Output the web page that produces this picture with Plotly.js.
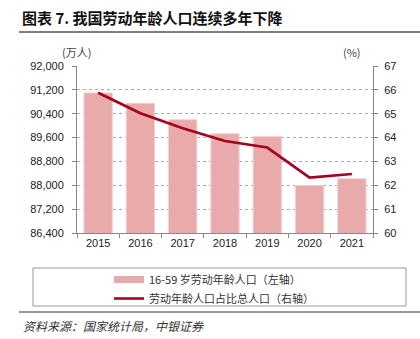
<!DOCTYPE html>
<html>
<head>
<meta charset="utf-8">
<script src="https://cdn.plot.ly/plotly-3.0.1.min.js"></script>
<style>html,body{margin:0;padding:0;background:#fff;}#chart{width:420px;height:339px;}</style>
</head>
<body>
<div id="chart"></div>
<script>
const years = ['2015','2016','2017','2018','2019','2020','2021'];
const workingAgePop = [91096, 90747, 90199, 89729, 89640, 87990, 88222];
const workingAgeShare = [65.88, 65.02, 64.39, 63.86, 63.58, 62.32, 62.47];
const leftTicks = [86400, 87200, 88000, 88800, 89600, 90400, 91200, 92000];
const rightTicks = [60, 61, 62, 63, 64, 65, 66, 67];
const barName = '16-59 岁劳动年龄人口（左轴）';
const lineName = '劳动年龄人口占比总人口（右轴）';

const W = 420, H = 339, L = 77, R = 47, T = 66, B = 106;
const pw = W - L - R, ph = H - T - B;
const px = x => (x - L) / pw;
const py = y => (H - B - y) / ph;

const cjk = '"Noto Sans CJK SC", "Noto Sans", sans-serif';
const num = '"Liberation Sans", Arial, sans-serif';
const barColor = '#E8AAAA';

const traces = [
  {type:'bar', x:years, y:workingAgePop, name:barName, yaxis:'y', showlegend:false,
   marker:{color:barColor, line:{color:'#F3D2D2', width:1}}},
  // legend-only entry so the bar swatch is a wide band like the reference
  {type:'scatter', mode:'lines', x:[null], y:[null], name:barName, yaxis:'y',
   line:{color:barColor, width:7}, hoverinfo:'skip'},
  {type:'scatter', mode:'lines', x:years, y:workingAgeShare, name:lineName, yaxis:'y2',
   line:{color:'#A6001E', width:2.6}}
];

const layout = {
  width:W, height:H,
  margin:{l:L, r:R, t:T, b:B, pad:0},
  paper_bgcolor:'#fff', plot_bgcolor:'#fff',
  bargap:0.33,
  showlegend:true,
  legend:{x:px(109), xanchor:'left', y:py(265), yanchor:'top', orientation:'v',
    font:{family:cjk, size:11, color:'#333'}, bgcolor:'rgba(0,0,0,0)', borderwidth:0,
    tracegroupgap:0, itemwidth:30},
  xaxis:{type:'category', tickson:'boundaries', ticks:'outside', ticklen:4, tickcolor:'#888',
    showline:true, linecolor:'#888', linewidth:1, showgrid:false,
    tickfont:{family:num, size:11, color:'#222'}, fixedrange:true},
  yaxis:{range:[86400, 92000], tickvals:leftTicks, tickformat:',d', ticks:'outside', ticklen:4,
    tickcolor:'#888', showline:true, linecolor:'#888', linewidth:1,
    showgrid:true, gridcolor:'#aaa', griddash:'dot', gridwidth:1, zeroline:false,
    tickfont:{family:num, size:11, color:'#222'}, ticklabelstandoff:6},
  yaxis2:{range:[60, 67], tickvals:rightTicks, overlaying:'y', side:'right', ticks:'outside', ticklen:4,
    tickcolor:'#888', showline:true, linecolor:'#888', linewidth:1, showgrid:false, zeroline:false,
    tickfont:{family:num, size:11, color:'#222'}, ticklabelstandoff:4},
  shapes:[
    {type:'line', xref:'paper', yref:'paper', x0:px(19), x1:px(420), y0:py(32), y1:py(32), line:{color:'#555', width:1.5}},
    {type:'line', xref:'paper', yref:'paper', x0:px(19), x1:px(420), y0:py(312), y1:py(312), line:{color:'#777', width:1.5}},
    {type:'rect', xref:'paper', yref:'paper', x0:px(33), x1:px(406), y0:py(268), y1:py(306), line:{color:'#999', width:1}, fillcolor:'rgba(0,0,0,0)'}
  ],
  annotations:[
    {text:'<b>图表 7. 我国劳动年龄人口连续多年下降</b>', xref:'paper', yref:'paper', x:px(20), y:py(17),
     xanchor:'left', yanchor:'middle', showarrow:false, font:{family:cjk, size:15, color:'#111'}},
    {text:'(万人)', xref:'paper', yref:'paper', x:px(76), y:py(52), xanchor:'center', yanchor:'middle',
     showarrow:false, font:{family:cjk, size:11, color:'#444'}},
    {text:'(%)', xref:'paper', yref:'paper', x:px(352), y:py(52), xanchor:'center', yanchor:'middle',
     showarrow:false, font:{family:cjk, size:11, color:'#444'}},
    {text:'<i>资料来源：国家统计局，中银证券</i>', xref:'paper', yref:'paper', x:px(21), y:py(325),
     xanchor:'left', yanchor:'middle', showarrow:false, font:{family:cjk, size:12, color:'#333'}}
  ]
};

Plotly.newPlot('chart', traces, layout, {displayModeBar:false, staticPlot:true});
</script>
</body>
</html>
